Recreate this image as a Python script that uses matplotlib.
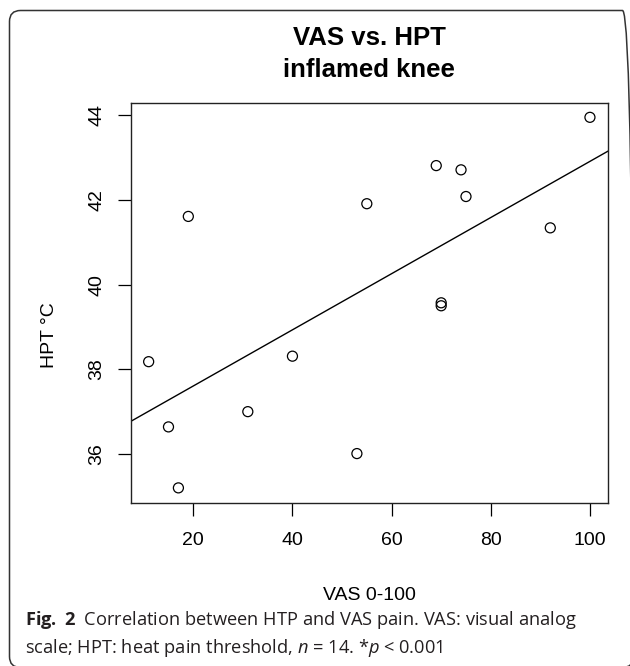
import matplotlib
matplotlib.use("Agg")
import matplotlib.pyplot as plt
from matplotlib.patches import FancyBboxPatch
import numpy as np

# ---- data ----
vas = [100, 69, 74, 75, 55, 19, 92, 70, 70, 11, 40, 31, 15, 53, 17]
hpt = [43.95, 42.81, 42.71, 42.08, 41.91, 41.61, 41.34, 39.57, 39.50,
       38.18, 38.31, 37.00, 36.64, 36.01, 35.20]
fit_intercept = 36.28
fit_slope = 0.0663
x_ticks = [20, 40, 60, 80, 100]
y_ticks = [36, 38, 40, 42, 44]
title_lines = ["VAS vs. HPT", "inflamed knee"]
x_label = "VAS 0-100"
y_label = "HPT \u00b0C"
caption1 = r"$\mathbf{Fig.}$ $\mathbf{2}$  Correlation between HTP and VAS pain. VAS: visual analog"
caption2 = r"scale; HPT: heat pain threshold, $n$ = 14. *$p$ < 0.001"

plt.rcParams['font.family'] = ['Liberation Sans', 'DejaVu Sans']
plt.rcParams['mathtext.fontset'] = 'custom'
plt.rcParams['mathtext.rm'] = 'Open Sans'
plt.rcParams['mathtext.it'] = 'Open Sans:italic'
plt.rcParams['mathtext.bf'] = 'Open Sans:bold'

W, H = 630, 666
fig = plt.figure(figsize=(W / 100, H / 100), dpi=100)
fig.patch.set_facecolor('white')

# axes placed in pixel geometry
left, right, top, bottom = 131, 607.6, 102.5, 502.7
ax = fig.add_axes([left / W, 1 - bottom / H, (right - left) / W, (bottom - top) / H])

ax.scatter(vas, hpt, s=52, facecolors='none', edgecolors='black', linewidths=0.9, zorder=3)
ax.axline((0, fit_intercept), slope=fit_slope, color='black', lw=1.0)

# R-style 4% axis extension
xr = max(vas) - min(vas)
yr = max(hpt) - min(hpt)
ax.set_xlim(min(vas) - 0.04 * xr, max(vas) + 0.04 * xr)
ax.set_ylim(min(hpt) - 0.04 * yr, max(hpt) + 0.04 * yr)

ax.set_xticks(x_ticks)
ax.set_xticklabels([str(t) for t in x_ticks])
ax.set_yticks(y_ticks)
ax.set_yticklabels([str(t) for t in y_ticks], rotation=90, va='center')

ax.tick_params(axis='both', direction='out', length=9.5, width=0.9, colors='black', labelsize=14)
ax.tick_params(axis='x', pad=11.5)
ax.tick_params(axis='y', pad=9)
for sp in ax.spines.values():
    sp.set_linewidth(1.0)
    sp.set_color('#222222')

# axis labels
fig.text(369 / W, 1 - 600 / H, x_label, ha='center', va='baseline', fontsize=14)
fig.text(50 / W, 1 - 302.5 / H, y_label, ha='right', va='center', rotation=90,
         fontsize=14, rotation_mode='anchor')

# title
fig.text(369 / W, 1 - 45 / H, title_lines[0], ha='center', va='baseline',
         fontsize=18.5, fontweight='bold')
fig.text(369 / W, 1 - 77 / H, title_lines[1], ha='center', va='baseline',
         fontsize=18.5, fontweight='bold')

# caption
fig.text(25 / W, 1 - 625 / H, caption1, ha='left', va='baseline', fontsize=13.15,
         family=['Open Sans', 'DejaVu Sans'], color='#231f20')
fig.text(25 / W, 1 - 653 / H, caption2, ha='left', va='baseline', fontsize=13.15,
         family=['Open Sans', 'DejaVu Sans'], color='#231f20')

# outer rounded frame (pixel coordinates); right and bottom edges fall just outside
frame = FancyBboxPatch((9.5, -1.5), 624, 657, boxstyle="round,pad=0,rounding_size=11",
                       transform=None, fill=False, edgecolor='#333333', linewidth=1.1)
fig.add_artist(frame)

fig.savefig('out.png', dpi=100, facecolor='white')
